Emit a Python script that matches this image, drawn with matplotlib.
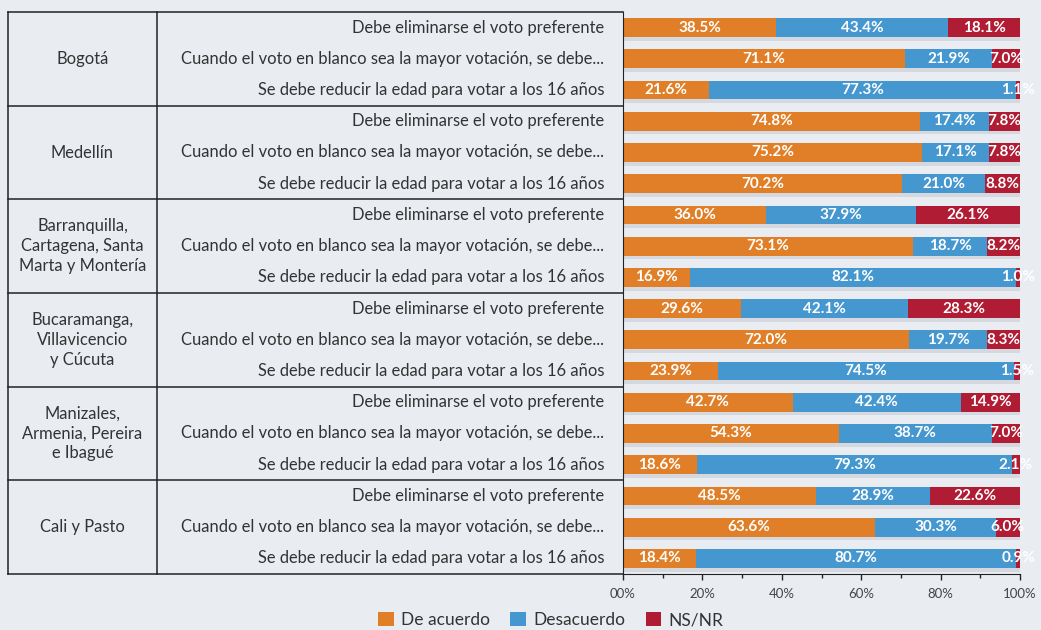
import numpy as np
import matplotlib
matplotlib.use('Agg')
import matplotlib.pyplot as plt
from matplotlib.patches import Patch
from matplotlib.transforms import blended_transform_factory

plt.rcParams['font.family'] = ['Lato', 'DejaVu Sans']

regiones = ['Bogotá', 'Medellín', 'Barranquilla,\nCartagena, Santa\nMarta y Montería',
            'Bucaramanga,\nVillavicencio\ny Cúcuta', 'Manizales,\nArmenia, Pereira\ne Ibagué',
            'Cali y Pasto']
preguntas = ['Debe eliminarse el voto preferente',
             'Cuando el voto en blanco sea la mayor votación, se debe...',
             'Se debe reducir la edad para votar a los 16 años']
series = ['De acuerdo', 'Desacuerdo', 'NS/NR']

# one row per region/question, in order
de_acuerdo = [38.5, 71.1, 21.6, 74.8, 75.2, 70.2, 36.0, 73.1, 16.9,
              29.6, 72.0, 23.9, 42.7, 54.3, 18.6, 48.5, 63.6, 18.4]
desacuerdo = [43.4, 21.9, 77.3, 17.4, 17.1, 21.0, 37.9, 18.7, 82.1,
              42.1, 19.7, 74.5, 42.4, 38.7, 79.3, 28.9, 30.3, 80.7]
ns_nr = [18.1, 7.0, 1.1, 7.8, 7.8, 8.8, 26.1, 8.2, 1.0,
         28.3, 8.3, 1.5, 14.9, 7.0, 2.1, 22.6, 6.0, 0.9]

colores = ['#e07f27', '#4597d0', '#b01c33']
bg = '#e9edf2'

fig = plt.figure(figsize=(10.41, 6.30), dpi=100, facecolor=bg)
ax = fig.add_axes([623/1041, 1 - 574/630, 397/1041, 562/630])
ax.set_facecolor('none')

n = len(de_acuerdo)
y = np.arange(n)
izq = np.zeros(n)
for vals, col in zip([de_acuerdo, desacuerdo, ns_nr], colores):
    vals = np.array(vals)
    # soft shadow under each segment
    ax.barh(y + 0.12, vals, left=izq, height=0.6, color='#9aa0a8', alpha=0.25, lw=0)
    bars = ax.barh(y, vals, left=izq, height=0.6, color=col, lw=0)
    ax.bar_label(bars, labels=['%.1f%%' % v for v in vals], label_type='center',
                 color='white', fontsize=11, fontweight='bold')
    izq += vals

ax.set_xlim(0, 100)
ax.set_ylim(n - 0.5, -0.5)
ax.set_yticks([])
ax.set_xticks(np.arange(0, 101, 20))
ax.set_xticks(np.arange(0, 101, 10), minor=True)
ax.set_xticklabels(['00%', '20%', '40%', '60%', '80%', '100%'])
ax.tick_params(axis='x', which='both', length=4, width=1, color='#222222',
               labelsize=9.5, labelcolor='#444444', pad=6)
ax.tick_params(axis='x', which='minor', length=3)
for s in ['top', 'right']:
    ax.spines[s].set_visible(False)
ax.spines['left'].set_color('#222222')
ax.spines['bottom'].set_color('#222222')

# table on the left: region / question columns
tr = blended_transform_factory(fig.transFigure, ax.transData)
x0, x1, x2 = 8/1041, 157/1041, 623/1041
lw = 1.1
for b in np.arange(-0.5, n, 3):
    ax.plot([x0, x2], [b, b], color='#222222', lw=lw, transform=tr, clip_on=False)
ax.plot([x0, x0], [-0.5, n - 0.5], color='#222222', lw=lw, transform=tr, clip_on=False)
ax.plot([x1, x1], [-0.5, n - 0.5], color='#222222', lw=lw, transform=tr, clip_on=False)

for i, reg in enumerate(regiones):
    ax.text((x0 + x1) / 2, 3 * i + 1, reg, transform=tr, ha='center', va='center',
            fontsize=11.9, color='#333333', linespacing=1.3)
for i in range(n):
    ax.text(604/1041, i, preguntas[i % 3], transform=tr, ha='right', va='center',
            fontsize=11.9, color='#333333')

handles = [Patch(facecolor=c, edgecolor='none') for c in colores]
fig.legend(handles, series, loc='center', bbox_to_anchor=(0.529, 0.016), ncol=3,
           frameon=False, fontsize=12.5, handlelength=0.9, handleheight=0.9,
           handletextpad=0.4, columnspacing=1.2, labelcolor='#333333')

fig.savefig('out.png', dpi=100, facecolor=bg)
